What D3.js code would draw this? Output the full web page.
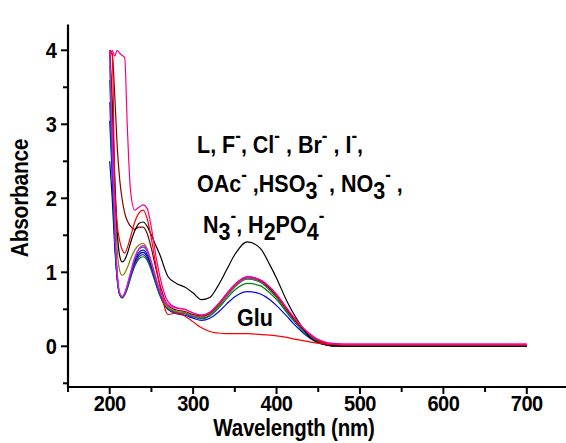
<!DOCTYPE html>
<html>
<head>
<meta charset="utf-8">
<script src="https://cdn.jsdelivr.net/npm/d3@7"></script>
<style>
  html, body { margin: 0; padding: 0; background: #fff; }
  svg { display: block; }
  text { font-family: "Liberation Sans", Arial, sans-serif; font-weight: bold; fill: #000; }
</style>
</head>
<body>
<svg id="chart" width="566" height="443"></svg>
<script>
// ---- Data ----
const wavelengths = [200,203,206,209,212,215,218,221,225,230,235,240,245,250,255,260,270,280,290,300,310,320,330,340,350,365,380,392,400,412,420,430,440,450,460,470,480,500,600,700];

const seriesNames  = ["L","F","Cl","Br","I","OAc","HSO3","NO3","N3","H2PO4","Glu"];
const seriesColors = ["#000000","#FF0080","#800000","#808000","#FF00FF","#008080","#0000FF","#000080","#008000","#3030C0","#FF0000"];

const absL     = [4.0,3.3,2.3,1.55,1.22,1.14,1.17,1.25,1.4,1.56,1.66,1.68,1.62,1.5,1.37,1.24,0.94,0.85,0.8,0.72,0.63,0.66,0.82,1.03,1.24,1.41,1.33,1.1,0.92,0.62,0.45,0.27,0.12,0.05,0.02,0.01,0,0,0,0];
const absF     = [3.9,4.0,3.92,4.0,3.96,3.93,3.9,3.0,2.1,1.84,1.88,1.91,1.86,1.6,1.25,0.95,0.6,0.52,0.5,0.45,0.42,0.46,0.57,0.71,0.84,0.94,0.9,0.8,0.7,0.52,0.4,0.27,0.17,0.09,0.05,0.035,0.03,0.03,0.03,0.03];
const absCl    = [4.0,3.95,3.4,2.7,2.25,1.98,1.8,1.7,1.62,1.58,1.61,1.61,1.52,1.32,1.07,0.84,0.55,0.49,0.47,0.43,0.41,0.45,0.56,0.7,0.83,0.93,0.89,0.78,0.68,0.5,0.38,0.25,0.15,0.08,0.03,0.01,0,0,0,0];
const absBr    = [4.0,3.1,2.0,1.3,1.02,0.96,0.99,1.06,1.18,1.3,1.37,1.39,1.31,1.13,0.93,0.75,0.52,0.47,0.45,0.41,0.39,0.43,0.54,0.68,0.81,0.92,0.88,0.77,0.67,0.49,0.37,0.24,0.14,0.07,0.03,0.01,0,0,0,0];
const absI     = [4.0,2.9,1.7,1.0,0.72,0.67,0.72,0.83,1.0,1.2,1.32,1.36,1.3,1.14,0.94,0.76,0.56,0.52,0.5,0.45,0.42,0.46,0.57,0.7,0.83,0.93,0.9,0.8,0.7,0.52,0.4,0.27,0.16,0.09,0.05,0.035,0.03,0.03,0.03,0.03];
const absOAc   = [3.8,2.7,1.6,0.98,0.71,0.67,0.72,0.82,0.99,1.18,1.31,1.34,1.28,1.12,0.92,0.74,0.52,0.47,0.45,0.41,0.39,0.43,0.54,0.68,0.81,0.91,0.87,0.76,0.66,0.48,0.36,0.23,0.13,0.06,0.02,0.01,0,0,0,0];
const absHSO3  = [3.05,2.3,1.45,0.92,0.7,0.66,0.71,0.8,0.97,1.16,1.27,1.3,1.24,1.08,0.89,0.72,0.5,0.44,0.42,0.38,0.35,0.38,0.46,0.57,0.67,0.74,0.71,0.63,0.55,0.41,0.31,0.2,0.11,0.05,0.02,0.01,0,0,0,0];
const absNO3   = [2.5,2.0,1.35,0.9,0.7,0.66,0.71,0.8,0.96,1.13,1.24,1.27,1.21,1.06,0.87,0.7,0.5,0.46,0.45,0.41,0.39,0.43,0.55,0.69,0.83,0.94,0.9,0.79,0.69,0.5,0.38,0.25,0.14,0.07,0.02,0,0,0,0,0];
const absN3    = [3.6,2.6,1.55,0.95,0.69,0.65,0.69,0.77,0.92,1.08,1.18,1.21,1.16,1.02,0.85,0.69,0.5,0.46,0.44,0.4,0.37,0.41,0.51,0.64,0.76,0.85,0.82,0.72,0.63,0.46,0.35,0.22,0.12,0.06,0.02,0.01,0,0,0,0];
const absH2PO4 = [3.3,2.4,1.5,0.94,0.7,0.66,0.71,0.79,0.94,1.1,1.21,1.24,1.18,1.04,0.86,0.7,0.5,0.45,0.44,0.4,0.38,0.42,0.53,0.67,0.8,0.91,0.87,0.76,0.66,0.48,0.36,0.23,0.13,0.06,0.02,0.01,0,0,0,0];
const absGlu   = [4.0,3.95,2.2,1.65,1.42,1.3,1.26,1.33,1.48,1.68,1.8,1.84,1.72,1.45,1.12,0.82,0.43,0.45,0.41,0.33,0.25,0.2,0.18,0.17,0.17,0.17,0.16,0.15,0.14,0.12,0.1,0.08,0.06,0.04,0.03,0.025,0.02,0.02,0.02,0.02];

const seriesValues = [absL,absF,absCl,absBr,absI,absOAc,absHSO3,absNO3,absN3,absH2PO4,absGlu];

const xTickValues = [200,300,400,500,600,700];
const yTickValues = [0,1,2,3,4];
const xLabel = "Wavelength (nm)";
const yLabel = "Absorbance";

// ---- Layout ----
const svg = d3.select("#chart");
const x = d3.scaleLinear().domain([150, 750]).range([68, 568.5]);
const y = d3.scaleLinear().domain([-0.55, 4.35]).range([387, 24.4]);
const SY = 1.13; // vertical stretch of the bold text

// ---- Curves ----
const line = d3.line()
  .x(d => x(d[0]))
  .y(d => y(d[1]))
  .curve(d3.curveMonotoneX);

const drawOrder = [6,7,8,9,5,3,2,0,10,4,1];
drawOrder.forEach(i => {
  const pts = wavelengths.map((w, j) => [w, seriesValues[i][j]]);
  svg.append("path")
    .datum(pts)
    .attr("fill", "none")
    .attr("stroke", seriesColors[i])
    .attr("stroke-width", 1.2)
    .attr("d", line);
});

// ---- Axes ----
const xAxis = svg.append("g").attr("transform", `translate(0,${y.range()[0]})`);
xAxis.append("line").attr("x1", x.range()[0] - 1).attr("x2", 566).attr("y1", 0).attr("y2", 0)
  .attr("stroke", "#000").attr("stroke-width", 2.2);
const xMinor = d3.range(150, 751, 50);
xAxis.selectAll(".xt").data(xMinor).enter().append("line")
  .attr("x1", d => x(d)).attr("x2", d => x(d))
  .attr("y1", 0).attr("y2", d => xTickValues.includes(d) ? 7 : 5)
  .attr("stroke", "#000").attr("stroke-width", 2);
xAxis.selectAll(".xl").data(xTickValues).enter().append("text")
  .attr("transform", d => `translate(${x(d)},24) scale(1,${SY})`)
  .attr("text-anchor", "middle").attr("font-size", 20)
  .attr("letter-spacing", -0.5)
  .text(d => d);

const yAxis = svg.append("g").attr("transform", `translate(${x.range()[0]},0)`);
yAxis.append("line").attr("x1", 0).attr("x2", 0).attr("y1", y.range()[0] + 1).attr("y2", y.range()[1])
  .attr("stroke", "#000").attr("stroke-width", 2.2);
const yMinor = d3.range(-0.5, 4.01, 0.5);
yAxis.selectAll(".yt").data(yMinor).enter().append("line")
  .attr("x1", d => Number.isInteger(d) ? -7 : -5).attr("x2", 0)
  .attr("y1", d => y(d)).attr("y2", d => y(d))
  .attr("stroke", "#000").attr("stroke-width", 2);
yAxis.selectAll(".yl").data(yTickValues).enter().append("text")
  .attr("transform", d => `translate(-11,${y(d) + 8}) scale(1,${SY})`)
  .attr("text-anchor", "end").attr("font-size", 20)
  .text(d => d);

// axis titles
svg.append("text").attr("transform", `translate(294,436) scale(1,${SY})`)
  .attr("text-anchor", "middle").attr("font-size", 20.5).attr("letter-spacing", -0.2)
  .text(xLabel);
svg.append("text")
  .attr("transform", `translate(28,198) rotate(-90) scale(1,${SY})`)
  .attr("text-anchor", "middle").attr("font-size", 21).attr("letter-spacing", -0.3)
  .text(yLabel);

// ---- Annotations ----
function richText(x0, y0, parts, size) {
  const t = svg.append("text")
    .attr("transform", `translate(${x0},${y0}) scale(1,${SY})`)
    .attr("font-size", size);
  let cur = 0;
  parts.forEach(([s, type]) => {
    const off = type === "sup" ? -10 : type === "sub" ? 6 : 0;
    t.append("tspan")
      .attr("dy", off - cur)
      .attr("font-size", type === "sup" ? 17 : size)
      .text(s);
    cur = off;
  });
  return t;
}
const M = "-";
richText(197, 153, [["L, F",""],[M,"sup"],[", Cl",""],[M,"sup"],[" , Br",""],[M,"sup"],[" , I",""],[M,"sup"],[",",""]], 21.5);
richText(197, 192, [["OAc",""],[M,"sup"],[" ,HSO",""],["3","sub"],[M,"sup"],[" , NO",""],["3","sub"],[M,"sup"],[" ,",""]], 21.5);
richText(203, 233, [["N",""],["3","sub"],[M,"sup"],[", H",""],["2","sub"],["PO",""],["4","sub"],[M,"sup"]], 21.5);
svg.append("text").attr("transform", `translate(237,326) scale(1,${SY})`).attr("font-size", 21.5).text("Glu");
</script>
</body>
</html>
